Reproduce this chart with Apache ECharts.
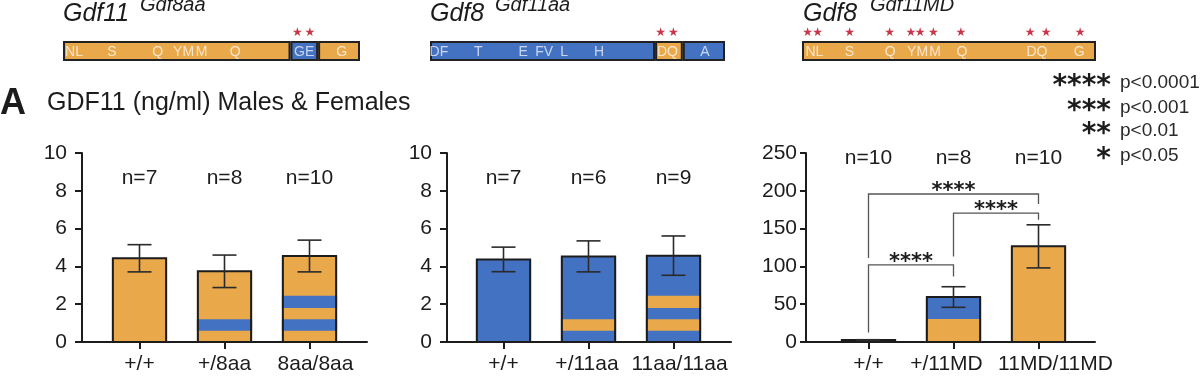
<!DOCTYPE html>
<html>
<head>
<meta charset="utf-8">
<script src="https://cdn.jsdelivr.net/npm/echarts@6.0.0/dist/echarts.min.js"></script>
<style>html,body{margin:0;padding:0;background:#fff}#c{width:1200px;height:389px}</style>
</head>
<body>
<div id="c"></div>
<script>
// ---------- data ----------
const p1Categories = ['+/+', '+/8aa', '8aa/8aa'];
const p1Means = [4.43, 3.74, 4.55];
const p1Errors = [0.72, 0.86, 0.84];
const p1N = [7, 8, 10];
const p1Base = ['o', 'o', 'o'];
const p1Stripes = [[], [[0.6, 1.2]], [[0.6, 1.2], [1.8, 2.45]]];

const p2Categories = ['+/+', '+/11aa', '11aa/11aa'];
const p2Means = [4.37, 4.53, 4.57];
const p2Errors = [0.65, 0.82, 1.04];
const p2N = [7, 6, 9];
const p2Base = ['b', 'b', 'b'];
const p2Stripes = [[], [[0.6, 1.2]], [[0.6, 1.2], [1.8, 2.45]]];

const p3Categories = ['+/+', '+/11MD', '11MD/11MD'];
const p3Means = [2.5, 59.5, 126.5];
const p3Errors = [0.5, 13.6, 28.5];
const p3N = [10, 8, 10];
const p3Base = ['b', 'b', 'o'];
const p3Stripes = [[], [[0, 30.4]], []];

const p3BracketFrom = [0, 1, 0];
const p3BracketTo = [1, 2, 2];
const p3BracketY = [102, 170.6, 195.8];
const p3BracketLeftEnd = [12.7, 113, 111];
const p3BracketRightEnd = [86.8, 161.8, 182.5];
const p3BracketLabel = ['****', '****', '****'];

const d1Segments = [[0, 76.6], [76.6, 85.9], [85.9, 100]];
const d1Allele = ['o', 'b', 'o'];
const d1Labels = ['NL', 'S', 'Q', 'YM', 'M', 'Q', 'GE', 'G'];
const d1LabelPos = [3.7, 16.5, 31.9, 40.6, 46.7, 58, 81.2, 93.8];
const d1Stars = [78.9, 83.1];

const d2Segments = [[0, 76.3], [76.3, 85.7], [85.7, 100]];
const d2Allele = ['b', 'o', 'b'];
const d2Labels = ['DF', 'T', 'E', 'FV', 'L', 'H', 'DQ', 'A'];
const d2LabelPos = [3.0, 16.4, 31.6, 38.7, 45.5, 57.3, 80.5, 93.2];
const d2Stars = [78.2, 82.5];

const d3Segments = [[0, 100]];
const d3Allele = ['o'];
const d3Labels = ['NL', 'S', 'Q', 'YM', 'M', 'Q', 'DQ', 'G'];
const d3LabelPos = [4.2, 16.1, 30.0, 39.3, 45.3, 54.4, 79.9, 94.3];
const d3Stars = [1.9, 5.3, 16.2, 29.8, 37.0, 40.2, 44.7, 54.0, 77.6, 83.0, 94.6];

const sigLevels = ['****', '***', '**', '*'];
const sigTexts = ['p<0.0001', 'p<0.001', 'p<0.01', 'p<0.05'];

// ---------- styles ----------
const FONT = '"Liberation Sans", Arial, Helvetica, sans-serif';
const ORANGE = '#E9A94B';
const BLUE = '#4472C2';
const COL = { o: ORANGE, b: BLUE };
const INK = '#1c1c1c';

const chart = echarts.init(document.getElementById('c'));

const PTOP = 153, PH = 189;
const panels = [
  { wideL: 82, wideW: 285, narL: 97, cats: p1Categories, means: p1Means, errs: p1Errors, n: p1N, base: p1Base, stripes: p1Stripes, max: 10, interval: 2, nY: 8.68, margin: 15, tick: 7, shift: [0, 0, 12] },
  { wideL: 447, wideW: 284, narL: 461, cats: p2Categories, means: p2Means, errs: p2Errors, n: p2N, base: p2Base, stripes: p2Stripes, max: 10, interval: 2, nY: 8.68, margin: 15, tick: 7, shift: [0, -3, 12] },
  { wideL: 806, wideW: 289, narL: 826, cats: p3Categories, means: p3Means, errs: p3Errors, n: p3N, base: p3Base, stripes: p3Stripes, max: 250, interval: 50, nY: 243, margin: 9, tick: 6, shift: [0, -14, 34] }
];

const grid = [], xAxis = [], yAxis = [], series = [];

panels.forEach((p, k) => {
  const gW = 2 * k, gN = 2 * k + 1;
  grid.push({ left: p.wideL, top: PTOP, width: p.wideW, height: PH });
  grid.push({ left: p.narL, top: PTOP, width: 255, height: PH });
  xAxis.push({ gridIndex: gW, type: 'category', data: p.cats, axisLine: { lineStyle: { color: INK, width: 2 } }, axisTick: { show: false }, axisLabel: { show: false } });
  const rich = {};
  p.shift.forEach((s, i) => {
    rich['s' + i] = { fontSize: 21, fontFamily: FONT, color: INK, padding: s >= 0 ? [0, 0, 0, s] : [0, -s, 0, 0] };
  });
  xAxis.push({ gridIndex: gN, type: 'category', data: p.cats, axisLine: { show: false },
    axisTick: { show: true, alignWithLabel: true, interval: 0, length: 7, lineStyle: { color: INK, width: 2 } },
    axisLabel: { interval: 0, hideOverlap: false, fontSize: 21, fontFamily: FONT, color: INK, margin: 12,
      formatter: (v, i) => '{s' + i + '|' + v + '}', rich: rich } });
  yAxis.push({ gridIndex: gW, type: 'value', min: 0, max: p.max, interval: p.interval,
    axisLine: { show: true, lineStyle: { color: INK, width: 2 } },
    axisTick: { show: true, length: p.tick, lineStyle: { color: INK, width: 2 } },
    axisLabel: { fontSize: 21, fontFamily: FONT, color: INK, margin: p.margin },
    splitLine: { show: false } });
  yAxis.push({ gridIndex: gN, type: 'value', min: 0, max: p.max, show: false, splitLine: { show: false } });

  // bars
  series.push({
    type: 'custom', xAxisIndex: gN, yAxisIndex: gN, z: 3,
    data: p.means.map((m, i) => [i, m]),
    renderItem: (params, api) => {
      const i = params.dataIndex;
      const x = api.value(0), m = api.value(1);
      const w = api.size([1, 0])[0] * 0.65;
      const b0 = api.coord([x, 0]), b1 = api.coord([x, m]);
      const baseKey = p.base[i];
      const alt = baseKey === 'o' ? BLUE : ORANGE;
      const ch = [{ type: 'rect', shape: { x: b0[0] - w / 2, y: b1[1], width: w, height: b0[1] - b1[1] }, style: { fill: COL[baseKey] } }];
      p.stripes[i].forEach(s => {
        const lo = api.coord([x, s[0]]), hi = api.coord([x, s[1]]);
        ch.push({ type: 'rect', shape: { x: b0[0] - w / 2, y: hi[1], width: w, height: lo[1] - hi[1] }, style: { fill: alt } });
      });
      ch.push({ type: 'rect', shape: { x: b0[0] - w / 2 + 1, y: b1[1], width: w - 2, height: b0[1] - b1[1] }, style: { fill: 'none', stroke: INK, lineWidth: 2 } });
      return { type: 'group', children: ch };
    }
  });
  // error bars
  series.push({
    type: 'custom', xAxisIndex: gN, yAxisIndex: gN, z: 4,
    data: p.means.map((m, i) => [i, m, p.errs[i]]),
    renderItem: (params, api) => {
      const x = api.value(0), m = api.value(1), e = api.value(2);
      const top = api.coord([x, m + e]), bot = api.coord([x, m - e]);
      const cw = 12;
      const st = { stroke: '#2a2a2a', lineWidth: 1.6 };
      return { type: 'group', children: [
        { type: 'line', shape: { x1: top[0], y1: top[1], x2: bot[0], y2: bot[1] }, style: st },
        { type: 'line', shape: { x1: top[0] - cw, y1: top[1], x2: top[0] + cw, y2: top[1] }, style: st },
        { type: 'line', shape: { x1: bot[0] - cw, y1: bot[1], x2: bot[0] + cw, y2: bot[1] }, style: st }
      ] };
    }
  });
  // n labels
  series.push({
    type: 'custom', xAxisIndex: gN, yAxisIndex: gN, z: 5,
    data: p.n.map((n, i) => [i, p.nY, n]),
    renderItem: (params, api) => {
      const c = api.coord([api.value(0), api.value(1)]);
      return { type: 'text', x: c[0], y: c[1], style: { text: 'n=' + api.value(2), fill: INK, font: '21px ' + FONT, align: 'center', verticalAlign: 'middle', textAlign: 'center', textVerticalAlign: 'middle' } };
    }
  });
});

// significance brackets on panel 3
series.push({
  type: 'custom', xAxisIndex: 5, yAxisIndex: 5, z: 6,
  data: p3BracketFrom.map((f, i) => [f, p3BracketTo[i], p3BracketY[i], p3BracketLeftEnd[i], p3BracketRightEnd[i]]),
  renderItem: (params, api) => {
    const i = params.dataIndex;
    const a = api.value(0), b = api.value(1), y = api.value(2), le = api.value(3), re = api.value(4);
    const pa = api.coord([a, y]), pb = api.coord([b, y]);
    const pl = api.coord([a, le]), pr = api.coord([b, re]);
    const st = { stroke: '#555', lineWidth: 1.3 };
    return { type: 'group', children: [
      { type: 'polyline', shape: { points: [[pl[0], pl[1]], [pa[0], pa[1]], [pb[0], pb[1]], [pr[0], pr[1]]] }, style: Object.assign({ fill: 'none' }, st) },
      { type: 'text', x: (pa[0] + pb[0]) / 2, y: pa[1] - 2, style: { text: p3BracketLabel[i], fill: INK, font: 'bold 21px "DejaVu Sans", sans-serif', align: 'center', verticalAlign: 'middle', textAlign: 'center', textVerticalAlign: 'middle' } }
    ] };
  }
});

// protein diagrams
const diagrams = [
  { left: 63, width: 297, segs: d1Segments, allele: d1Allele, labels: d1Labels, pos: d1LabelPos, stars: d1Stars },
  { left: 430, width: 295, segs: d2Segments, allele: d2Allele, labels: d2Labels, pos: d2LabelPos, stars: d2Stars },
  { left: 802, width: 294, segs: d3Segments, allele: d3Allele, labels: d3Labels, pos: d3LabelPos, stars: d3Stars }
];
diagrams.forEach((d, k) => {
  const g = 6 + k;
  grid.push({ left: d.left, top: 41, width: d.width, height: 20 });
  xAxis.push({ gridIndex: g, type: 'value', min: 0, max: 100, show: false, splitLine: { show: false } });
  yAxis.push({ gridIndex: g, type: 'value', min: 0, max: 1, show: false, splitLine: { show: false } });
  series.push({
    type: 'custom', xAxisIndex: g, yAxisIndex: g, z: 3,
    data: [[0, 0]],
    renderItem: (params, api) => {
      const ch = [];
      d.segs.forEach((s, j) => {
        const a = api.coord([s[0], 1]), b = api.coord([s[1], 0]);
        ch.push({ type: 'rect', shape: { x: a[0], y: a[1], width: b[0] - a[0], height: b[1] - a[1] }, style: { fill: COL[d.allele[j]] } });
      });
      d.segs.forEach((s, j) => {
        const a = api.coord([s[0], 1]), b = api.coord([s[1], 0]);
        ch.push({ type: 'rect', shape: { x: a[0] + 1, y: a[1] + 1, width: b[0] - a[0] - 2, height: b[1] - a[1] - 2 }, style: { fill: 'none', stroke: '#222', lineWidth: 2 } });
      });
      d.labels.forEach((t, j) => {
        const c = api.coord([d.pos[j], 0.5]);
        ch.push({ type: 'text', x: c[0], y: c[1] + 1, style: { text: t, fill: 'rgba(255,255,255,0.7)', font: '14px ' + FONT, align: 'center', verticalAlign: 'middle', textAlign: 'center', textVerticalAlign: 'middle' } });
      });
      d.stars.forEach(sx => {
        const c = api.coord([sx, 1]);
        ch.push({ type: 'text', x: c[0], y: c[1] - 8, style: { text: '★', fill: '#C8364A', font: '12px "DejaVu Sans", sans-serif', align: 'center', verticalAlign: 'middle', textAlign: 'center', textVerticalAlign: 'middle' } });
      });
      return { type: 'group', children: ch };
    }
  });
});

// static texts
const graphic = [];
function txt(x, y, text, font, align, fill) {
  graphic.push({ type: 'text', x: x, y: y, style: { text: text, font: font, fill: fill || INK, align: align || 'left', verticalAlign: 'middle', textAlign: align || 'left', textVerticalAlign: 'middle' } });
}
txt(63, 14, 'Gdf11', 'italic 25px ' + FONT);
txt(140, 5, 'Gdf8aa', 'italic 20px ' + FONT);
txt(430, 14, 'Gdf8', 'italic 25px ' + FONT);
txt(495, 5, 'Gdf11aa', 'italic 20px ' + FONT);
txt(803, 14, 'Gdf8', 'italic 25px ' + FONT);
txt(870, 5, 'Gdf11MD', 'italic 20px ' + FONT);
txt(0, 104, 'A', 'bold 36px ' + FONT);
txt(47, 103, 'GDF11 (ng/ml) Males & Females', '25px ' + FONT);
const legY = [83, 108, 131, 156];
sigLevels.forEach((s, i) => {
  txt(1111, legY[i] + 4, s, 'bold 28px "DejaVu Sans", sans-serif', 'right');
  txt(1120, legY[i], sigTexts[i], '19px ' + FONT, 'left', '#2a2a2a');
});

chart.setOption({
  animation: false,
  backgroundColor: '#fff',
  grid: grid, xAxis: xAxis, yAxis: yAxis, series: series, graphic: graphic
});
</script>
</body>
</html>
